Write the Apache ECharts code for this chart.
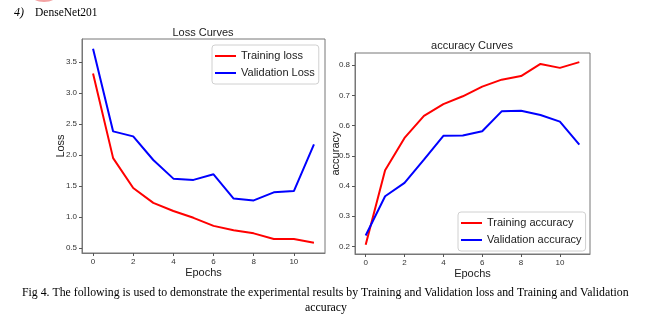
<!DOCTYPE html>
<html><head><meta charset="utf-8">
<script src="https://cdn.jsdelivr.net/npm/echarts@6/dist/echarts.min.js"></script>
<style>html,body{margin:0;padding:0;background:#fff}#c{width:658px;height:323px}</style>
</head><body><div id="c"></div>
<script>
const epochs = [0,1,2,3,4,5,6,7,8,9,10,11];
const trainLoss = [3.31,1.95,1.47,1.23,1.10,0.99,0.86,0.79,0.74,0.65,0.65,0.59];
const valLoss = [3.71,2.38,2.30,1.92,1.62,1.60,1.69,1.30,1.27,1.40,1.42,2.17];
const trainAcc = [0.205,0.452,0.559,0.632,0.671,0.697,0.729,0.752,0.764,0.804,0.791,0.810];
const valAcc = [0.236,0.366,0.410,0.487,0.566,0.567,0.581,0.647,0.649,0.635,0.613,0.537];
const xTicks = [0,2,4,6,8,10];
const lossTicks = [0.5,1.0,1.5,2.0,2.5,3.0,3.5];
const accTicks = [0.2,0.3,0.4,0.5,0.6,0.7,0.8];

const F = "'Liberation Sans',sans-serif";
const pair = (xs, ys) => xs.map((x, i) => [x, ys[i]]);

function xAx(gi){
  return {type:'value', gridIndex:gi, min:-0.55, max:11.55, name:'Epochs', nameLocation:'middle', nameGap:14,
    nameMoveOverlap:false,
    nameTextStyle:{fontFamily:F, fontSize:11, color:'#222'},
    axisLine:{show:true, onZero:false, lineStyle:{color:'#777'}},
    axisTick:{show:true, length:3, customValues:xTicks, lineStyle:{color:'#555'}},
    axisLabel:{customValues:xTicks, margin:5, fontFamily:F, fontSize:8, color:'#333'},
    splitLine:{show:false}};
}
function yAx(gi, min, max, ticks, name, gap, fmt){
  return {type:'value', gridIndex:gi, min:min, max:max, name:name, nameLocation:'middle', nameGap:gap,
    nameMoveOverlap:false,
    nameTextStyle:{fontFamily:F, fontSize:11, color:'#222'},
    axisLine:{show:true, onZero:false, lineStyle:{color:'#777'}},
    axisTick:{show:true, length:3, customValues:ticks, lineStyle:{color:'#555'}},
    axisLabel:{customValues:ticks, margin:5, fontFamily:F, fontSize:8, color:'#333', formatter:fmt},
    splitLine:{show:false}};
}
function line(name, gi, data, color){
  return {type:'line', name:name, xAxisIndex:gi, yAxisIndex:gi, data:data, symbol:'none',
    lineStyle:{color:color, width:2}, itemStyle:{color:color}, animation:false};
}
function legend(names, left, top){
  return {data:names, orient:'vertical', left:left, top:top, icon:'rect', itemWidth:21, itemHeight:2,
    itemGap:3, padding:[4,4,4,3], borderColor:'#d0d0d0', borderWidth:1, borderRadius:3,
    textStyle:{fontFamily:F, fontSize:11, color:'#222', lineHeight:14}};
}

const chart = echarts.init(document.getElementById('c'));
chart.setOption({
  animation:false,
  title:[
    {text:'Loss Curves', left:203, top:27, textAlign:'center', padding:0,
      textStyle:{fontFamily:F, fontSize:11, fontWeight:'normal', color:'#222'}},
    {text:'accuracy Curves', left:472, top:40, textAlign:'center', padding:0,
      textStyle:{fontFamily:F, fontSize:11, fontWeight:'normal', color:'#222'}}
  ],
  grid:[
    {left:82, top:39, width:243, height:214, show:true, borderColor:'#777', borderWidth:1},
    {left:355, top:53, width:235, height:201, show:true, borderColor:'#777', borderWidth:1}
  ],
  xAxis:[xAx(0), xAx(1)],
  yAxis:[
    yAx(0, 0.424, 3.866, lossTicks, 'Loss', 16, v => v.toFixed(1)),
    yAx(1, 0.1747, 0.8403, accTicks, 'accuracy', 14, v => v.toFixed(1))
  ],
  legend:[
    legend(['Training loss','Validation Loss'], 212, 45),
    legend(['Training accuracy','Validation accuracy'], 458, 212)
  ],
  series:[
    line('Training loss', 0, pair(epochs, trainLoss), '#ff0000'),
    line('Validation Loss', 0, pair(epochs, valLoss), '#0000ff'),
    line('Training accuracy', 1, pair(epochs, trainAcc), '#ff0000'),
    line('Validation accuracy', 1, pair(epochs, valAcc), '#0000ff')
  ],
  graphic:[
    {type:'ellipse', shape:{cx:44, cy:-5, rx:13, ry:7}, style:{fill:'#f3a3a3'}},
    {type:'text', left:14, top:7, style:{text:'4)', font:"italic 12px 'Liberation Serif'", fill:'#000'}},
    {type:'text', left:35, top:7, style:{text:'DenseNet201', font:"11.5px 'Liberation Serif'", fill:'#000'}},
    {type:'text', left:22, top:287, style:{text:'Fig 4. The following is used to demonstrate the experimental results by Training and Validation loss and Training and Validation', font:"11.8px 'Liberation Serif'", fill:'#000'}},
    {type:'text', x:326, y:302, style:{text:'accuracy', align:'center', font:"11.8px 'Liberation Serif'", fill:'#000'}}
  ]
});
</script></body></html>
